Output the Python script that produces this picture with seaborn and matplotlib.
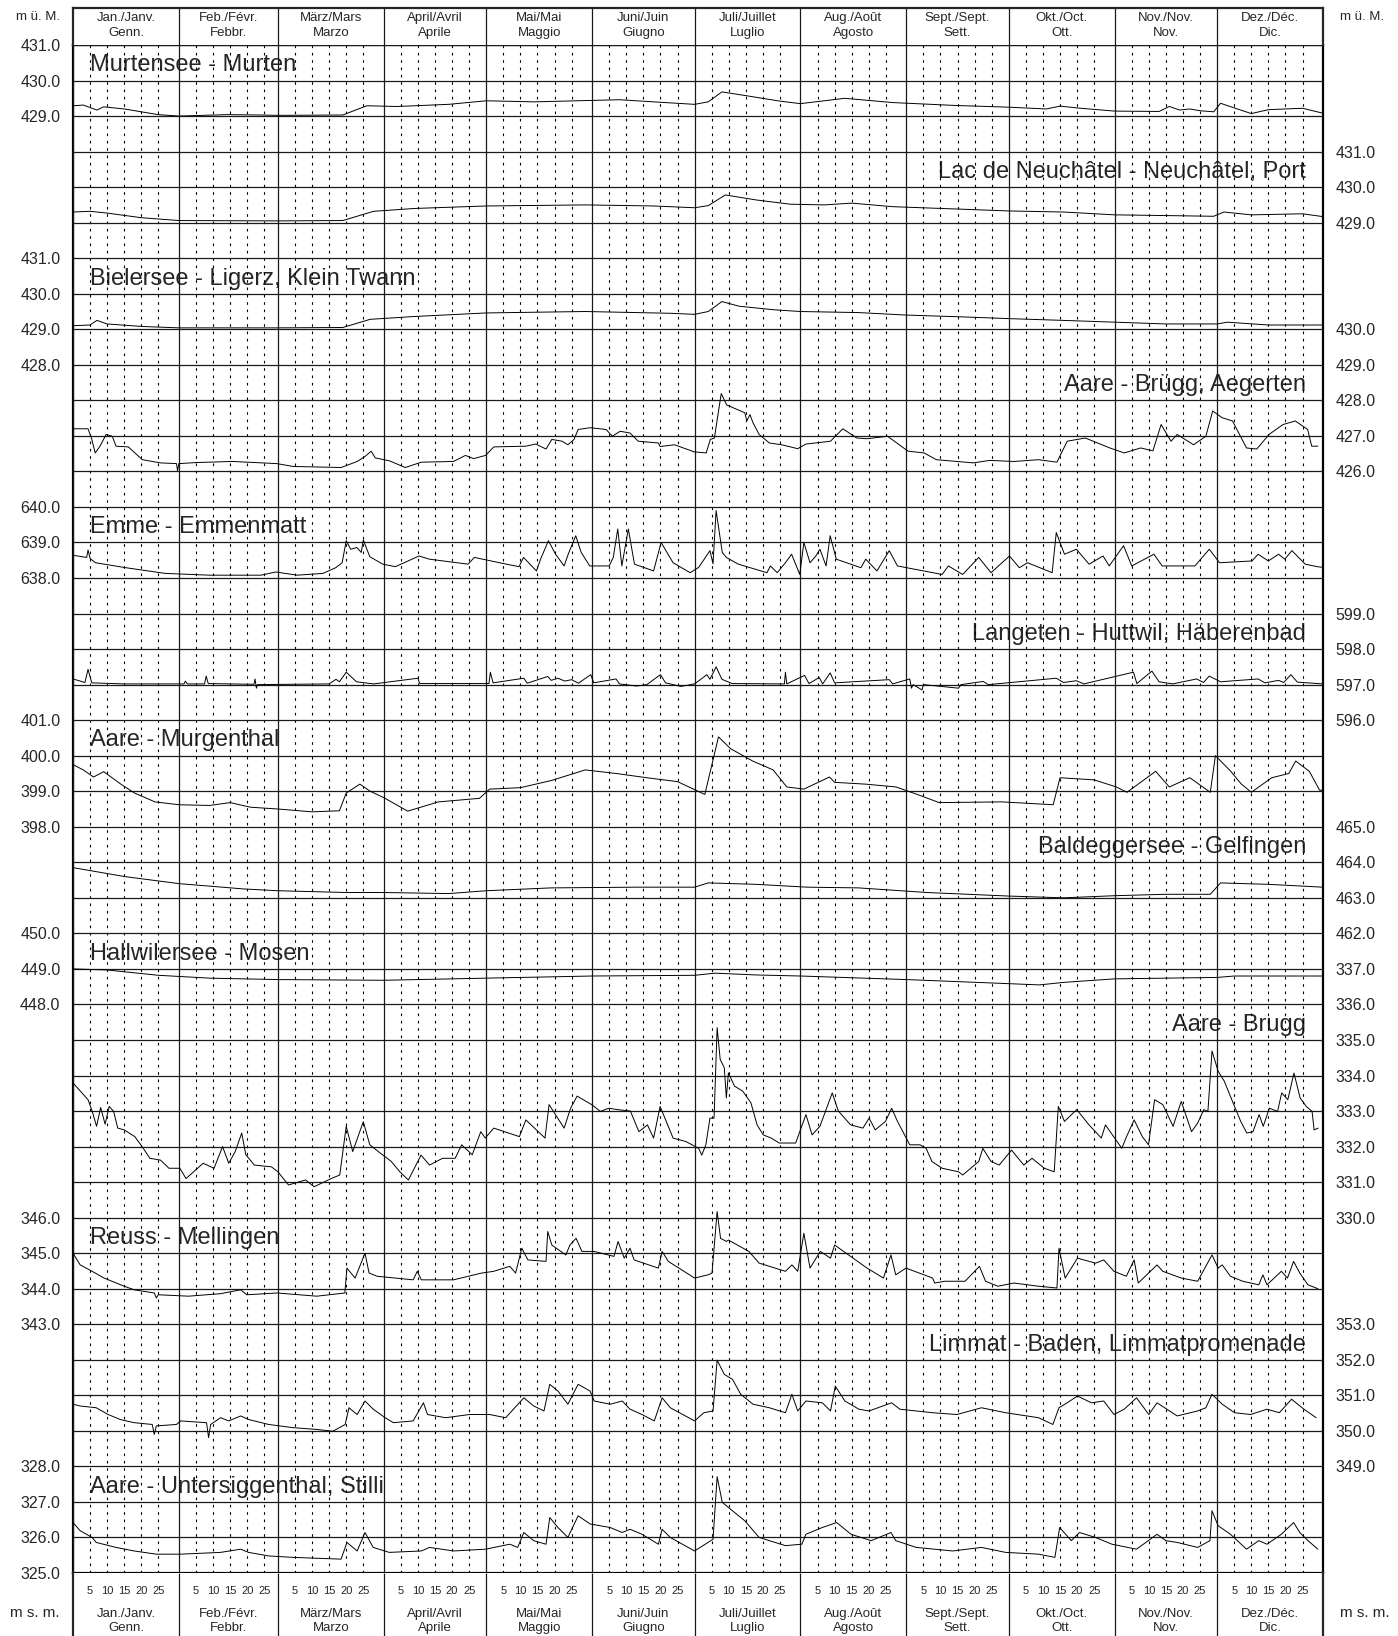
import numpy as np
import matplotlib
matplotlib.use('Agg')
import matplotlib.pyplot as plt
import seaborn as sns

sns.set_style('white')
plt.rcParams['font.family'] = ['Liberation Sans', 'DejaVu Sans']

# ---------------------------------------------------------------- calendar
month_len = [31, 29, 31, 30, 31, 30, 31, 31, 30, 31, 30, 31]
month_top = ['Jan./Janv.', 'Feb./Févr.', 'März/Mars', 'April/Avril', 'Mai/Mai', 'Juni/Juin',
             'Juli/Juillet', 'Aug./Août', 'Sept./Sept.', 'Okt./Oct.', 'Nov./Nov.', 'Dez./Déc.']
month_bottom = ['Genn.', 'Febbr.', 'Marzo', 'Aprile', 'Maggio', 'Giugno',
                'Luglio', 'Agosto', 'Sett.', 'Ott.', 'Nov.', 'Dic.']
day_marks = [5, 10, 15, 20, 25]

# ---------------------------------------------------------------- data (day of year, level m)
murten = [(0, 429.29), (3, 429.31), (7, 429.17), (9, 429.26), (15, 429.2), (25, 429.04), (31, 429.0),
          (45, 429.04), (55, 429.03), (60, 429.02), (79, 429.03), (86, 429.29), (95, 429.27),
          (110, 429.33), (121, 429.43), (135, 429.4), (160, 429.46), (170, 429.4), (182, 429.33),
          (186, 429.4), (190, 429.68), (198, 429.56), (207, 429.42), (213, 429.35), (226, 429.5),
          (240, 429.38), (258, 429.3), (274, 429.25), (285, 429.2), (289, 429.28), (295, 429.22),
          (305, 429.14), (318, 429.13), (321, 429.27), (324, 429.17), (327, 429.2), (330, 429.15),
          (334, 429.12), (336, 429.36), (345, 429.07), (350, 429.18), (355, 429.2), (360, 429.22),
          (366, 429.08)]

neuchatel = [(0, 429.3), (5, 429.32), (10, 429.27), (20, 429.14), (31, 429.06), (60, 429.05),
             (79, 429.06), (88, 429.32), (100, 429.4), (121, 429.47), (150, 429.5), (170, 429.47),
             (182, 429.42), (186, 429.48), (191, 429.78), (200, 429.64), (210, 429.52), (220, 429.5),
             (228, 429.55), (240, 429.45), (260, 429.38), (274, 429.33), (290, 429.3), (305, 429.22),
             (320, 429.2), (334, 429.18), (337, 429.3), (345, 429.22), (360, 429.25), (366, 429.17)]

bielersee = [(0, 429.1), (5, 429.12), (7, 429.25), (10, 429.15), (20, 429.08), (31, 429.04), (60, 429.04),
             (79, 429.05), (87, 429.28), (100, 429.36), (121, 429.46), (150, 429.5), (175, 429.45),
             (182, 429.42), (186, 429.5), (190, 429.78), (195, 429.65), (205, 429.55), (213, 429.5),
             (230, 429.47), (244, 429.4), (260, 429.35), (274, 429.3), (290, 429.25), (305, 429.2),
             (320, 429.15), (335, 429.15), (338, 429.2), (350, 429.12), (366, 429.12)]

aegerten = [(0, 427.2), (4.4, 427.2), (5.4, 426.94), (6.5, 426.52), (7.9, 426.71), (9.7, 427.04),
            (11.5, 426.99), (12.6, 426.71), (16.2, 426.69), (20.3, 426.33), (25.6, 426.24), (30.3, 426.22),
            (30.6, 426.02), (31, 426.22), (36.2, 426.25), (46.7, 426.28), (59.7, 426.22), (64.4, 426.14),
            (78.5, 426.11), (83.2, 426.28), (85.5, 426.42), (87.3, 426.57), (88.5, 426.38), (92.6, 426.3),
            (97.3, 426.11), (102, 426.26), (111.4, 426.28), (114.9, 426.45), (117.3, 426.36), (120.8, 426.45),
            (123.2, 426.69), (132.6, 426.71), (135.5, 426.77), (138.5, 426.63), (140.2, 426.9), (143.2, 426.85),
            (144.9, 426.75), (146.7, 426.9), (147.9, 427.18), (151.4, 427.23), (156.1, 427.18), (157.9, 426.99),
            (160.2, 427.13), (163.1, 427.08), (165.5, 426.85), (171.4, 426.8), (171.9, 426.7), (176.1, 426.75),
            (181.9, 426.55), (185.4, 426.52), (186.6, 426.9), (187.8, 426.94), (189.8, 428.19), (191.4, 427.87),
            (196.7, 427.65), (197.3, 427.42), (198.2, 427.6), (199.1, 427.37), (200.9, 427.04), (203.9, 426.8),
            (207.5, 426.75), (212.2, 426.64), (214.6, 426.77), (221.8, 426.85), (225.4, 427.2), (229.5, 426.94),
            (232.5, 426.92), (238.5, 426.99), (244.5, 426.57), (249.2, 426.52), (252.8, 426.33), (263.6, 426.24),
            (268.4, 426.31), (275.5, 426.28), (282.7, 426.33), (288.1, 426.26), (291.1, 426.85), (296.4, 426.94),
            (303.6, 426.66), (307.8, 426.52), (312.6, 426.66), (316.2, 426.58), (318.6, 427.32), (321.5, 426.85),
            (323.3, 427.04), (328.1, 426.75), (331.7, 426.99), (333.7, 427.7), (336.5, 427.51), (339.5, 427.42),
            (343.6, 426.66), (346.6, 426.63), (350.2, 427.04), (354.3, 427.32), (357.9, 427.42), (361.5, 427.18),
            (362.7, 426.71), (364.5, 426.71)]

emme = [(0, 638.64), (4.0, 638.58), (4.4, 638.79), (5, 638.55), (6.6, 638.43), (15.5, 638.29), (27, 638.13),
        (40, 638.08), (55, 638.08), (59.4, 638.17), (65.6, 638.08), (73.2, 638.13), (76.9, 638.29),
        (78.8, 638.43), (80, 639.05), (81.3, 638.81), (83.1, 638.86), (84.4, 638.72), (85, 639.07),
        (86.9, 638.6), (90.7, 638.39), (94.4, 638.32), (98.1, 638.48), (101.3, 638.62), (104.4, 638.53),
        (115.7, 638.39), (117.5, 638.58), (126.9, 638.39), (130.6, 638.32), (131.9, 638.58), (135.7, 638.2),
        (136.9, 638.53), (139.2, 639.05), (141.3, 638.67), (143.8, 638.34), (145, 638.67), (147.2, 639.19),
        (148.8, 638.72), (151.3, 638.34), (157, 638.34), (158.2, 638.58), (159.5, 639.38), (160.7, 638.34),
        (162.6, 639.38), (164.4, 638.39), (170, 638.2), (172.2, 639.0), (175.7, 638.43), (180.7, 638.15),
        (183.2, 638.3), (186.5, 638.77), (187.4, 638.4), (188.3, 639.9), (190.1, 638.72), (191.3, 638.58),
        (194.8, 638.39), (203.2, 638.15), (204.2, 638.34), (206.2, 638.15), (208.6, 638.43), (210.4, 638.67),
        (212.8, 638.1), (214, 639.0), (215.8, 638.43), (217.5, 638.62), (218.7, 638.81), (220.5, 638.34),
        (221.7, 639.19), (223.5, 638.53), (230.7, 638.29), (232.1, 638.53), (235.4, 638.2), (239, 638.77),
        (241.4, 638.34), (254.5, 638.1), (256.3, 638.34), (260.5, 638.1), (265.2, 638.58), (268.8, 638.15),
        (274.2, 638.62), (277.1, 638.29), (279.5, 638.43), (286.7, 638.15), (287.9, 639.28), (290.3, 638.67),
        (293.8, 638.81), (297.5, 638.39), (301.6, 638.62), (303.4, 638.34), (307.6, 638.91), (310, 638.34),
        (316.5, 638.67), (318.9, 638.34), (328.5, 638.34), (332.7, 638.81), (335.7, 638.43), (345.2, 638.48),
        (347, 638.67), (350, 638.48), (353, 638.67), (354.8, 638.53), (356.9, 638.77), (360.8, 638.39),
        (364.3, 638.32), (366, 638.3)]

langeten = [(0, 597.16), (3.5, 597.06), (4.4, 597.43), (5.5, 597.05), (15, 597.02), (32.5, 597.02),
            (32.9, 597.1), (33.5, 597.02), (38.5, 597.02), (39, 597.24), (39.6, 597.03), (53, 597.01),
            (53.3, 597.16), (53.7, 596.9), (54, 597.0), (75, 597.02), (77, 597.15), (78, 597.08), (80, 597.35),
            (83, 597.08), (88, 597.02), (101, 597.18), (101.5, 597.03), (121.8, 597.03), (122.2, 597.35),
            (123, 597.05), (132, 597.18), (133, 597.04), (139, 597.23), (140, 597.12), (142, 597.18),
            (144, 597.1), (146, 597.14), (148, 597.04), (151.6, 597.28), (152.5, 597.05), (159, 597.16),
            (160, 597.02), (165, 596.96), (168, 597.0), (172, 597.28), (173.5, 597.05), (178, 596.95),
            (182, 597.02), (185.6, 597.28), (186.5, 597.15), (188.3, 597.5), (190, 597.15), (193, 597.03),
            (208.3, 597.02), (208.6, 597.35), (209, 597.02), (214.2, 597.26), (215.5, 597.03), (218.5, 597.2),
            (219.5, 597.02), (221.7, 597.33), (223, 597.05), (239, 597.14), (240, 597.02), (245, 597.16),
            (245.5, 596.9), (246, 597.0), (248.6, 596.85), (249, 597.0), (259.3, 596.9), (260, 597.0),
            (266.5, 597.09), (268, 597.0), (287.9, 597.18), (290, 597.06), (293.8, 597.11), (296, 597.02),
            (310.5, 597.35), (311.5, 597.03), (315.9, 597.38), (318, 597.08), (322, 597.02), (329, 597.16),
            (331, 597.06), (332.7, 597.24), (336, 597.08), (347, 597.16), (349, 597.05), (353, 597.12),
            (354.5, 597.06), (356.6, 597.28), (358.5, 597.07), (366, 597.02)]

murgenthal = [(0, 399.75), (3, 399.6), (6, 399.4), (9, 399.55), (14, 399.2), (18, 398.95), (24, 398.7),
              (31, 398.62), (40, 398.6), (46, 398.68), (52, 398.55), (60, 398.5), (70, 398.42), (78, 398.45),
              (80, 398.95), (84, 399.2), (87, 399.0), (91, 398.82), (98, 398.44), (107, 398.7), (119, 398.8),
              (122, 399.06), (131, 399.1), (140, 399.3), (150, 399.6), (159, 399.5), (168, 399.38),
              (177, 399.27), (185, 398.91), (189, 400.53), (192.5, 400.2), (199, 399.85), (205, 399.6),
              (209, 399.12), (214, 399.06), (221.5, 399.4), (223, 399.25), (232, 399.2), (241, 399.12),
              (247.5, 398.9), (253.6, 398.68), (272, 398.7), (287, 398.62), (289, 399.38), (299, 399.32),
              (305.5, 399.12), (308.6, 398.97), (317, 399.56), (321, 399.12), (327, 399.38), (333, 398.97),
              (334.5, 400.0), (339, 399.56), (342, 399.21), (345, 398.97), (351, 399.38), (356, 399.5),
              (358, 399.85), (362, 399.56), (365, 399.03), (366, 399.03)]

baldegg = [(0, 463.85), (15, 463.6), (31, 463.4), (50, 463.25), (60, 463.2), (80, 463.15), (91, 463.15),
           (110, 463.12), (121, 463.2), (140, 463.28), (165, 463.3), (182, 463.3), (186, 463.42),
           (200, 463.38), (215, 463.3), (230, 463.28), (250, 463.15), (274, 463.05), (290, 463.0),
           (305, 463.06), (320, 463.1), (333, 463.1), (336, 463.42), (350, 463.38), (366, 463.3)]

hallwil = [(0, 449.0), (10, 448.97), (25, 448.82), (40, 448.74), (60, 448.7), (91, 448.68), (121, 448.74),
           (152, 448.8), (182, 448.82), (188, 448.88), (200, 448.83), (213, 448.8), (244, 448.7),
           (270, 448.6), (283, 448.55), (290, 448.62), (305, 448.72), (335, 448.76), (340, 448.8), (366, 448.8)]

brugg = [(0, 333.79), (4.4, 333.32), (5.6, 333.0), (6.9, 332.57), (8.1, 333.1), (9.4, 332.63), (10.6, 333.13),
         (11.9, 332.99), (13.1, 332.52), (15, 332.47), (18.1, 332.28), (20.6, 331.95), (22.5, 331.67),
         (25.6, 331.62), (28.1, 331.39), (31.3, 331.39), (33.1, 331.1), (38.1, 331.53), (41.3, 331.39),
         (43.8, 332.0), (45.6, 331.53), (47.5, 331.86), (49.4, 332.38), (50.6, 331.77), (53.1, 331.48),
         (58.1, 331.43), (60, 331.29), (63.1, 330.92), (68.1, 331.06), (70.6, 330.87), (75.6, 331.1),
         (78.1, 331.2), (80, 332.57), (81.9, 331.86), (85, 332.7), (86.9, 332.05), (89.4, 331.86),
         (93.2, 331.58), (95.7, 331.29), (98.2, 331.06), (101.9, 331.76), (104.4, 331.48), (108.2, 331.67),
         (111.9, 331.67), (113.8, 332.05), (116.9, 331.77), (119.4, 332.42), (120.7, 332.24), (123.2, 332.52),
         (130.7, 332.28), (132.6, 332.75), (138.2, 332.24), (139.4, 333.18), (143.8, 332.52), (145.7, 333.08),
         (147.6, 333.42), (151.9, 333.18), (154.4, 332.99), (156.9, 333.08), (159.4, 333.04), (163.2, 333.0),
         (165.7, 332.42), (168.2, 332.61), (170, 332.24), (171.9, 333.13), (175.7, 332.24), (179.5, 332.14),
         (183.2, 331.95), (184.1, 331.76), (185.3, 332.05), (186.5, 332.8), (187.7, 332.8), (188.6, 335.35),
         (189.5, 334.45), (190.7, 334.22), (191.3, 333.37), (191.9, 334.07), (193.7, 333.7), (196.1, 333.56),
         (198.5, 333.23), (200.3, 332.61), (202.1, 332.33), (204.4, 332.24), (206.8, 332.1), (211.6, 332.1),
         (214.6, 332.9), (216.4, 332.33), (218.7, 332.57), (222.3, 333.51), (224.1, 333.0), (227.7, 332.61),
         (231.3, 332.52), (233.1, 332.8), (234.9, 332.47), (237.9, 332.71), (239.7, 333.08), (241.4, 332.71),
         (245, 332.05), (248, 332.05), (249.8, 331.95), (251.5, 331.58), (254.5, 331.39), (259.3, 331.29),
         (260.5, 331.2), (265.2, 331.58), (266.4, 331.95), (268.8, 331.58), (271.2, 331.48), (274.8, 331.9),
         (278.4, 331.48), (280.8, 331.67), (284.4, 331.39), (287.3, 331.29), (288.5, 333.13), (290.3, 332.71),
         (293.9, 333.04), (297.5, 332.61), (301.1, 332.24), (302.3, 332.61), (307.1, 331.95), (308.3, 332.24),
         (310.7, 332.75), (313.1, 332.28), (314.9, 332.05), (316.7, 333.32), (319.1, 333.18), (322.1, 332.57),
         (324.5, 333.27), (327.5, 332.42), (329.3, 332.66), (331.1, 333.04), (332.3, 332.99), (333.5, 334.69),
         (335.3, 334.12), (337.1, 333.84), (339.5, 333.27), (341.9, 332.71), (343.7, 332.38), (345.5, 332.42),
         (347.3, 332.9), (348.5, 332.57), (350.3, 333.08), (352.7, 332.99), (353.9, 333.51), (355.7, 333.32),
         (357.5, 334.07), (359.3, 333.37), (361.1, 333.13), (362.8, 332.99), (363.4, 332.47), (364.6, 332.52)]

reuss = [(0, 345.0), (2.1, 344.67), (5.6, 344.49), (9.1, 344.3), (15, 344.07), (17.9, 343.97), (23.8, 343.88),
         (24.4, 343.74), (25, 343.83), (33.8, 343.79), (43.2, 343.86), (49.1, 343.97), (50.9, 343.83),
         (59.7, 343.88), (71.4, 343.79), (79.6, 343.88), (80.2, 344.58), (82.6, 344.3), (85.5, 345.0),
         (86.7, 344.44), (89.1, 344.35), (99.6, 344.25), (100.8, 344.49), (102, 344.25), (111.4, 344.25),
         (119.6, 344.44), (123.2, 344.49), (127.9, 344.63), (129.6, 344.44), (131.4, 345.14), (133.2, 344.81),
         (138.5, 344.77), (139.0, 345.61), (140.2, 345.23), (144.3, 344.95), (145.5, 345.23), (147.3, 345.42),
         (149.0, 345.05), (152.6, 345.05), (158.4, 344.91), (159.6, 345.33), (161.4, 344.86), (163.1, 345.14),
         (164.3, 344.81), (171.4, 344.58), (172.5, 345.05), (174.3, 344.77), (182, 344.3), (185.9, 344.39),
         (187.1, 344.44), (188.6, 346.17), (189.6, 345.42), (191.3, 345.33), (191.9, 345.37), (197.9, 345.05),
         (200.9, 344.72), (208.6, 344.49), (210.5, 344.67), (212.2, 344.49), (214.0, 345.56), (215.8, 344.58),
         (218.8, 345.05), (221.8, 344.86), (223.0, 345.23), (232.5, 344.58), (237.3, 344.3), (239.5, 344.95),
         (240.9, 344.39), (243.9, 344.58), (251.7, 344.3), (252.3, 344.16), (255.2, 344.21), (261.2, 344.21),
         (265.4, 344.63), (267.2, 344.21), (270.8, 344.07), (275.5, 344.16), (282.7, 344.07), (288.1, 344.02),
         (288.7, 345.14), (290.5, 344.3), (292.3, 344.58), (294.1, 344.86), (299.4, 344.72), (301.8, 344.81),
         (304.8, 344.49), (308.4, 344.35), (310.7, 344.81), (311.9, 344.16), (317.4, 344.67), (319.1, 344.49),
         (324.5, 344.3), (329.3, 344.21), (333.5, 344.95), (335.3, 344.58), (336.5, 344.67), (338.9, 344.35),
         (342.5, 344.21), (347.2, 344.11), (348.4, 344.39), (349.6, 344.11), (353.8, 344.49), (355.6, 344.3),
         (357.4, 344.77), (359.2, 344.44), (361.6, 344.11), (364.5, 344.0)]

limmat = [(0, 350.75), (2.1, 350.7), (6.8, 350.65), (10.3, 350.46), (13.8, 350.32), (17.9, 350.23),
          (23.2, 350.18), (23.8, 349.9), (24.4, 350.14), (30.3, 350.18), (31.5, 350.28), (39.1, 350.23),
          (39.7, 349.81), (40.3, 350.18), (43.2, 350.37), (45.6, 350.28), (49.1, 350.42), (51.4, 350.32),
          (57.3, 350.18), (64.4, 350.09), (71.4, 350.04), (76.1, 349.99), (79.7, 350.18), (80.8, 350.65),
          (83.2, 350.46), (85.5, 350.84), (87.9, 350.61), (91.4, 350.37), (93.8, 350.23), (99.6, 350.28),
          (102.6, 350.79), (103.8, 350.46), (109.1, 350.37), (116.1, 350.46), (122, 350.46), (126.7, 350.37),
          (132, 350.93), (134.9, 350.7), (137.9, 350.56), (139.6, 351.31), (142, 351.12), (144.9, 350.75),
          (147.9, 351.31), (151.4, 351.12), (152.6, 350.84), (157.3, 350.75), (160.8, 350.84), (163.1, 350.61),
          (166.6, 350.46), (170.2, 350.28), (172.5, 350.93), (174.9, 350.65), (182, 350.28), (184.7, 350.51),
          (187.4, 350.56), (188.6, 351.99), (190.7, 351.59), (193.1, 351.45), (195.5, 351.03), (199.1, 350.75),
          (203.9, 350.65), (208.6, 350.51), (210.5, 351.03), (212.2, 350.56), (214.6, 350.84), (219.4, 350.79),
          (221.8, 350.56), (223.2, 351.26), (226, 350.84), (230.1, 350.61), (233.1, 350.56), (239.7, 350.79),
          (242.1, 350.61), (251.7, 350.51), (258.8, 350.46), (266, 350.65), (273.1, 350.51), (282.7, 350.37),
          (286.9, 350.18), (288.7, 350.65), (291.1, 350.79), (294.1, 350.98), (298.2, 350.79), (301.8, 350.84),
          (304.8, 350.46), (307.8, 350.61), (311.4, 350.93), (315, 350.46), (317.4, 350.79), (323.3, 350.42),
          (329.3, 350.56), (331.7, 350.65), (333.5, 351.03), (336.5, 350.75), (340.1, 350.51), (344.8, 350.46),
          (349.6, 350.61), (353.2, 350.51), (356.8, 350.89), (360.4, 350.61), (364, 350.37)]

stilli = [(0, 326.42), (2.1, 326.19), (5.6, 326.0), (6.8, 325.86), (12.6, 325.72), (17.9, 325.62),
          (24.4, 325.53), (31.5, 325.53), (43.2, 325.58), (49.1, 325.67), (51.4, 325.58), (57.3, 325.48),
          (64.4, 325.44), (78.5, 325.39), (80.2, 325.86), (83.2, 325.62), (85.5, 326.14), (87.9, 325.72),
          (92.6, 325.58), (102, 325.62), (104.4, 325.72), (111.4, 325.62), (120.8, 325.67), (127.9, 325.81),
          (130.2, 325.72), (132, 326.14), (134.9, 325.91), (138.5, 325.81), (139.6, 326.56), (142, 326.28),
          (144.9, 326.0), (147.9, 326.61), (151.4, 326.38), (157.3, 326.28), (160.8, 326.14), (163.1, 326.23),
          (166.6, 326.09), (171.4, 325.81), (172.5, 326.23), (174.9, 326.0), (182, 325.62), (187.4, 325.95),
          (188.6, 327.71), (190.1, 326.99), (193.1, 326.75), (196.7, 326.47), (200.9, 326.0), (203.9, 325.91),
          (208.6, 325.77), (213.4, 325.81), (214.6, 326.09), (219.4, 326.28), (223.6, 326.42), (227.8, 326.09),
          (233.7, 325.91), (239.5, 326.14), (240.9, 325.91), (246.9, 325.72), (257.6, 325.62), (266, 325.72),
          (273.1, 325.58), (282.7, 325.53), (287.5, 325.44), (288.9, 326.28), (292.3, 325.91), (294.7, 326.14),
          (299.4, 326.0), (304.2, 325.81), (311.4, 325.67), (317.4, 326.09), (320, 325.91), (323.3, 325.86),
          (329.3, 325.72), (332.9, 325.91), (333.5, 326.75), (335.3, 326.33), (338.9, 326.09), (343.6, 325.67),
          (347.2, 325.91), (349.6, 325.81), (353.8, 326.09), (357.4, 326.42), (359.2, 326.14), (361.6, 325.91),
          (364.5, 325.67)]

# name, series, level at top gridline, labelled levels, label side, title row
stations = [
    ('Murtensee - Murten', murten, 431, [431, 430, 429], 'left', 0),
    ('Lac de Neuchâtel - Neuchâtel, Port', neuchatel, 434, [431, 430, 429], 'right', 3),
    ('Bielersee - Ligerz, Klein Twann', bielersee, 437, [431, 430, 429, 428], 'left', 6),
    ('Aare - Brügg, Aegerten', aegerten, 438, [430, 429, 428, 427, 426], 'right', 9),
    ('Emme - Emmenmatt', emme, 653, [640, 639, 638], 'left', 13),
    ('Langeten - Huttwil, Häberenbad', langeten, 615, [599, 598, 597, 596], 'right', 16),
    ('Aare - Murgenthal', murgenthal, 420, [401, 400, 399, 398], 'left', 19),
    ('Baldeggersee - Gelfingen', baldegg, 487, [465, 464, 463, 462], 'right', 22),
    ('Hallwilersee - Mosen', hallwil, 475, [450, 449, 448], 'left', 25),
    ('Aare - Brugg', brugg, 363, [337, 336, 335, 334, 333, 332, 331, 330], 'right', 27),
    ('Reuss - Mellingen', reuss, 379, [346, 345, 344, 343], 'left', 33),
    ('Limmat - Baden, Limmatpromenade', limmat, 389, [353, 352, 351, 350, 349], 'right', 36),
    ('Aare - Untersiggenthal, Stilli', stilli, 368, [328, 327, 326, 325], 'left', 40),
]

N_ROWS = 43
W, H = 1398, 1636
X0, X1 = 73, 1323          # plot frame in pixels
Y_TOP, Y_BOT, Y_HEAD = 45, 1573, 8

month_start = np.concatenate([[0], np.cumsum(month_len)])
n_days = month_start[-1]
minor_days = [s + d for s in month_start[:-1] for d in day_marks]
month_mid = (month_start[:-1] + month_start[1:]) / 2

fig = plt.figure(figsize=(W / 100, H / 100), dpi=100)
frame_lw = 1.6
grid_col = '#1a1a1a'

# ---------------------------------------------------------------- main grid
ax = fig.add_axes([X0 / W, 1 - Y_BOT / H, (X1 - X0) / W, (Y_BOT - Y_TOP) / H])
ax.set_xlim(0, n_days)
ax.set_ylim(N_ROWS, 0)
ax.set_yticks(np.arange(N_ROWS + 1))
ax.set_xticks(month_start)
ax.set_xticks(minor_days, minor=True)
ax.set_axisbelow(False)
ax.yaxis.grid(True, color=grid_col, lw=0.9)
ax.xaxis.grid(True, which='major', color=grid_col, lw=0.9)
ax.xaxis.grid(True, which='minor', color='black', lw=0.8, linestyle=(0, (2.4, 4.2)))
ax.tick_params(axis='both', which='both', length=0, labelleft=False, labelbottom=False,
               labelright=False, labeltop=False)
for sp in ax.spines.values():
    sp.set_linewidth(frame_lw)
    sp.set_color('black')

for name, series, top, ticks, side, row in stations:
    days = [p[0] for p in series]
    lvls = [p[1] for p in series]

    # station title (sits under the grid)
    if side == 'left':
        ax.text(5, row + 0.74, name, ha='left', va='baseline', fontsize=17, zorder=1)
    else:
        ax.text(n_days - 5, row + 0.74, name, ha='right', va='baseline', fontsize=17, zorder=1)

    a = ax.twinx()
    a.set_ylim(top - N_ROWS, top)
    sns.lineplot(x=days, y=lvls, ax=a, color='black', linewidth=0.7,
                 estimator=None, sort=False)
    a.set_yticks(ticks)
    a.set_yticklabels(['%.1f' % t for t in ticks])
    if side == 'left':
        a.yaxis.tick_left()
    else:
        a.yaxis.tick_right()
    a.tick_params(axis='y', length=0, pad=9, labelsize=11.5)
    a.set_ylabel('')
    for sp in a.spines.values():
        sp.set_visible(False)

# ---------------------------------------------------------------- header
hx = fig.add_axes([X0 / W, 1 - Y_TOP / H, (X1 - X0) / W, (Y_TOP - Y_HEAD) / H])
hx.set_xlim(0, n_days)
hx.set_ylim(0, 1)
hx.set_xticks([])
hx.set_yticks([])
hx.spines['bottom'].set_visible(False)
for s in ['top', 'left', 'right']:
    hx.spines[s].set_linewidth(frame_lw)
hx.vlines(month_start[1:-1], 0, 1, color=grid_col, lw=0.9)
for m, mid in enumerate(month_mid):
    hx.text(mid, 0.74, month_top[m], ha='center', va='center', fontsize=9.5)
    hx.text(mid, 0.33, month_bottom[m], ha='center', va='center', fontsize=9.5)

# ---------------------------------------------------------------- footer
fx = fig.add_axes([X0 / W, 0, (X1 - X0) / W, (H - Y_BOT) / H])
fx.set_xlim(0, n_days)
fx.set_ylim(0, 1)
fx.set_xticks([])
fx.set_yticks([])
fx.spines['bottom'].set_visible(False)
fx.spines['top'].set_visible(False)
for s in ['left', 'right']:
    fx.spines[s].set_linewidth(frame_lw)
fx.vlines(month_start[1:-1], 0, 1, color=grid_col, lw=0.9)
for m, mid in enumerate(month_mid):
    for d in day_marks:
        fx.text(month_start[m] + d, 0.71, str(d), ha='center', va='center', fontsize=8)
    fx.text(mid, 0.35, month_top[m], ha='center', va='center', fontsize=9.5)
    fx.text(mid, 0.12, month_bottom[m], ha='center', va='center', fontsize=9.5)

# unit labels in the corners
fig.text(60 / W, 1 - 17 / H, 'm ü. M.', ha='right', va='center', fontsize=9.5)
fig.text(1340 / W, 1 - 17 / H, 'm ü. M.', ha='left', va='center', fontsize=9.5)
fig.text(60 / W, 1 - 1613 / H, 'm s. m.', ha='right', va='center', fontsize=11)
fig.text(1340 / W, 1 - 1613 / H, 'm s. m.', ha='left', va='center', fontsize=11)

fig.savefig('out.png', dpi=100)
